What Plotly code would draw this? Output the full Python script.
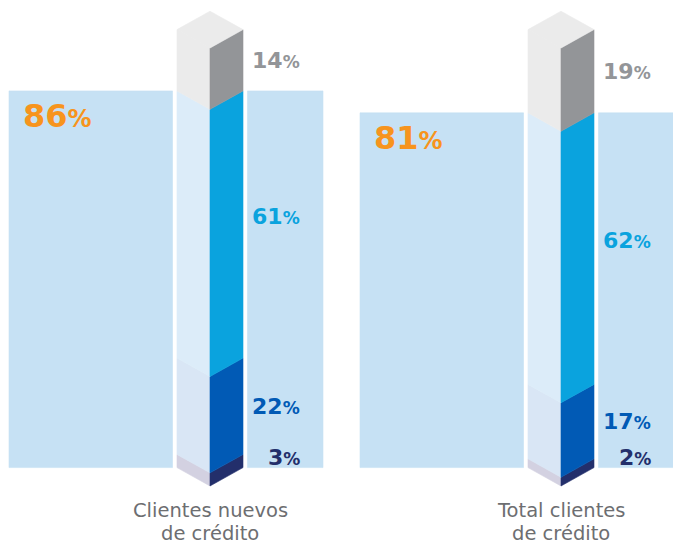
import plotly.graph_objects as go

# Data: two customer groups, share with the big highlighted bar and the
# breakdown of the stacked column (bottom to top)
groups = [["Clientes nuevos", "de crédito"], ["Total clientes", "de crédito"]]
highlight = [86, 81]
seg_navy = [3, 2]
seg_blue = [22, 17]
seg_cyan = [61, 62]
seg_grey = [14, 19]

# Styling
right_colors = ["#232f6b", "#015ab5", "#0aa3de", "#939598"]
left_colors = ["#d3d1e1", "#d9e6f5", "#dcecf9", "#ebebeb"]
cap_color = "#ebebeb"
panel_color = "#c6e1f4"
orange = "#f7941d"
cat_color = "#6d6e71"
NUM_FONT = "DejaVu Sans"
CAT_FONT = "DejaVu Sans"

PX_X = 351.0          # pixels per group step on x
PX_Y = 4.38           # pixels per percentage point on y
W = 33 / PX_X         # half width of column (one face)
GAP = 4.5 / PX_X      # white gap around column
D = 4.2               # isometric depth offset (y units)
P_LEFT = 201 / PX_X   # panel extent left of column centre
P_RIGHT = 113 / PX_X  # panel extent right of column centre
LBL_DX = 92 / PX_X    # right edge of segment labels

fig = go.Figure()

def poly(xs, ys, color):
    fig.add_trace(go.Scatter(
        x=xs + [xs[0]], y=ys + [ys[0]], mode="lines", fill="toself",
        fillcolor=color, line=dict(width=0.6, color=color),
        hoverinfo="skip", showlegend=False))

annotations = []
for i, g in enumerate(groups):
    # background panel (split around the column)
    top = D + highlight[i]
    poly([i - P_LEFT, i - W - GAP, i - W - GAP, i - P_LEFT], [D, D, top, top], panel_color)
    poly([i + W + GAP, i + P_RIGHT, i + P_RIGHT, i + W + GAP], [D, D, top, top], panel_color)

    annotations.append(dict(
        x=i - P_LEFT + 12 / PX_X, y=top - 25 / PX_Y, xanchor="left", yanchor="middle",
        text=f"<b>{highlight[i]}</b><span style='font-size:24px'><b>%</b></span>",
        font=dict(family=NUM_FONT, size=32, color=orange), showarrow=False))

    vals = [seg_navy[i], seg_blue[i], seg_cyan[i], seg_grey[i]]
    lo = 0.0
    for k, v in enumerate(vals):
        hi = lo + v
        # left face
        poly([i - W, i, i, i - W], [lo + D, lo, hi, hi + D], left_colors[k])
        # right face
        poly([i, i + W, i + W, i], [lo, lo + D, hi + D, hi], right_colors[k])
        mid = (lo + hi) / 2 + D
        if k == 2:
            mid += 8 / PX_Y
        elif k == 0:
            mid = max(mid, D + 10 / PX_Y)
        annotations.append(dict(
            x=i + LBL_DX, y=mid, xanchor="right", yanchor="middle",
            text=f"<b>{v}</b><span style='font-size:17px'><b>%</b></span>",
            font=dict(family=NUM_FONT, size=22, color=right_colors[k]), showarrow=False))
        lo = hi
    # top cap
    poly([i - W, i, i + W, i], [lo + D, lo + 2 * D, lo + D, lo], cap_color)

    for j, line in enumerate(g):
        annotations.append(dict(
            x=i, y=(-24 - 23 * j) / PX_Y, xanchor="center", yanchor="middle", text=line,
            font=dict(family=CAT_FONT, size=19.5, color=cat_color), showarrow=False))

fig.update_layout(
    width=673, height=544,
    margin=dict(l=0, r=0, t=0, b=0),
    paper_bgcolor="white", plot_bgcolor="white",
    xaxis=dict(range=[-210 / PX_X, 463 / PX_X], visible=False, fixedrange=True),
    yaxis=dict(range=[-58 / PX_Y, 486 / PX_Y], visible=False, fixedrange=True),
    annotations=annotations,
    showlegend=False,
)

fig.write_html("out.html")
